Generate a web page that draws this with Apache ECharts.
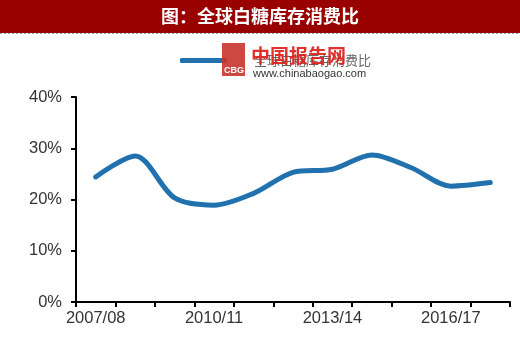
<!DOCTYPE html>
<html><head><meta charset="utf-8">
<script src="https://cdn.jsdelivr.net/npm/echarts@6/dist/echarts.min.js"></script>
<style>html,body{margin:0;padding:0;background:#fff}#c{width:520px;height:342px}</style>
</head><body><div id="c"></div>
<script>
const titleText = '图：全球白糖库存消费比';
const seriesName = '全球白糖库存消费比';
const categories = ['2007/08','2008/09','2009/10','2010/11','2011/12','2012/13','2013/14','2014/15','2015/16','2016/17','2017/18'];
const values = [24.4, 28.5, 20.3, 18.9, 21.2, 25.3, 25.9, 28.7, 26.2, 22.6, 23.3];
const yTicks = [0, 10, 20, 30, 40];

const chart = echarts.init(document.getElementById('c'), null, {renderer:'canvas'});
chart.setOption({
  animation: false,
  backgroundColor: '#fff',
  graphic: [
    {type:'rect', shape:{x:0,y:0,width:520,height:33}, style:{fill:'#990000'}, z:0},
    {type:'line', shape:{x1:0,y1:33.5,x2:520,y2:33.5}, style:{stroke:'#8f9fc8', lineWidth:1, lineDash:[2,2]}},
    {type:'text', left:'center', top:7, style:{text:titleText, fill:'#fff', font:'bold 18px "Noto Sans CJK SC"'}},
    {type:'rect', shape:{x:222,y:43,width:23,height:33}, style:{fill:'#c8342c', opacity:0.9}, z:10},
    {type:'text', x:224, y:66, style:{text:'CBG', fill:'#fff', font:'bold 9px "Liberation Sans"'}, z:11},
    {type:'text', x:251, y:46, style:{text:'中国报告网', fill:'#e0201a', font:'bold 19px "Noto Sans CJK SC"', opacity:0.92}, z:10},
    {type:'text', x:253, y:68, style:{text:'www.chinabaogao.com', fill:'#333', font:'11px "Liberation Sans"'}, z:10}
  ],
  legend: {
    data: [seriesName], left: 175, top: 49, icon: 'roundRect',
    itemWidth: 47, itemHeight: 5,
    textStyle: {color:'#666', fontSize:13, fontFamily:'"Noto Sans CJK SC"', padding:[0,0,0,22]}
  },
  grid: {left:76, right:10, top:97, bottom:40, containLabel:false},
  xAxis: {
    type:'category', data: categories, boundaryGap:true,
    axisLine:{lineStyle:{color:'#000', width:2}},
    axisTick:{show:true, interval:0, length:5, lineStyle:{color:'#000', width:2}},
    axisLabel:{interval:2, color:'#333', fontSize:16.5, fontFamily:'"Liberation Sans"', margin:8}
  },
  yAxis: {
    type:'value', min:yTicks[0], max:yTicks[yTicks.length-1], interval:10,
    splitLine:{show:false},
    axisLine:{show:true, lineStyle:{color:'#000', width:2}},
    axisTick:{show:true, length:5, lineStyle:{color:'#000', width:2}},
    axisLabel:{color:'#333', fontSize:16.5, fontFamily:'"Liberation Sans"', margin:14, formatter:'{value}%'}
  },
  series: [{
    name: seriesName, type:'line', data: values, smooth:0.3, symbol:'none',
    lineStyle:{color:'#2071ad', width:5, cap:'round'}, itemStyle:{color:'#2071ad'}
  }]
});
</script></body></html>
